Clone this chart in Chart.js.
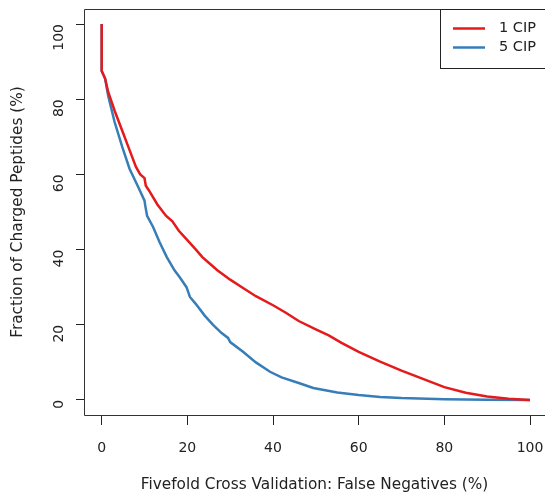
<!DOCTYPE html>
<html>
<head>
<meta charset="utf-8">
<script src="https://cdn.jsdelivr.net/npm/chart.js@4/dist/chart.umd.min.js"></script>
<style>
  html, body { margin: 0; padding: 0; background: #fff; overflow: hidden; }
  #wrap { width: 545px; height: 493px; }
</style>
</head>
<body>
<div id="wrap"><canvas id="cvChart"></canvas></div>
<script>
// === Data ===
const seriesLabels = ["1 CIP", "5 CIP"];
const seriesColors = ["#e41a1c", "#377eb8"];

const redX = [0, 0, 0.8, 1.5, 3, 5, 6, 7, 8, 9, 10, 10.3, 11, 13, 15, 16.5, 18, 20, 22, 23.5, 25, 27, 30, 33, 36, 40, 43, 46, 50, 53, 56, 60, 65, 70, 75, 80, 85, 90, 95, 100];
const redY = [100, 87.5, 85.5, 82, 77, 71, 68, 65, 62, 60, 59, 57, 55.8, 52, 49, 47.5, 45, 42.5, 40, 38, 36.5, 34.5, 32, 29.8, 27.6, 25.2, 23.2, 21, 18.8, 17.2, 15.2, 12.8, 10.2, 7.8, 5.6, 3.4, 1.9, 0.9, 0.3, 0];

const blueX = [0, 0, 0.8, 1.5, 3, 4.8, 6.5, 8.5, 10, 10.2, 10.6, 12, 13.5, 15.2, 17, 18.3, 19.8, 20.6, 22, 24, 26, 28, 29.5, 30, 33, 36, 39.3, 42, 46, 49.4, 55, 60, 65, 70, 80, 90, 100];
const blueY = [100, 87.5, 85.5, 81, 74, 67.3, 61.5, 56.7, 53, 51.5, 49, 46, 42, 38, 34.5, 32.5, 30, 27.4, 25.5, 22.5, 20, 17.8, 16.5, 15.4, 12.8, 10, 7.5, 6, 4.5, 3.2, 2, 1.3, 0.8, 0.5, 0.2, 0.05, 0];

const tickStep = 20;
const FONT = "'DejaVu Sans', Verdana, sans-serif";

function toPoints(xs, ys) {
  return xs.map((x, i) => ({ x: x, y: ys[i] }));
}

// box lines (top/left/bottom) and legend drawn inside the plot
const boxAndLegend = {
  id: "boxAndLegend",
  afterDraw(chart) {
    const { ctx, chartArea: a } = chart;
    ctx.save();
    ctx.strokeStyle = "#333";
    ctx.lineWidth = 1;
    ctx.beginPath();
    ctx.moveTo(a.right, a.top + 0.5);
    ctx.lineTo(a.left + 0.5, a.top + 0.5);
    ctx.lineTo(a.left + 0.5, a.bottom + 0.5);
    ctx.lineTo(a.right, a.bottom + 0.5);
    ctx.stroke();

    // legend box
    const lx = 440.5, ly = a.top + 0.5, lw = 120, lh = 59;
    ctx.fillStyle = "#fff";
    ctx.fillRect(lx, ly, lw, lh);
    ctx.strokeStyle = "#222";
    ctx.strokeRect(lx, ly, lw, lh);

    ctx.font = "14.5px " + FONT;
    ctx.textBaseline = "middle";
    chart.data.datasets.forEach((ds, i) => {
      const yy = ly + 19 + i * 19;
      ctx.strokeStyle = ds.borderColor;
      ctx.lineWidth = 2.5;
      ctx.beginPath();
      ctx.moveTo(453, yy);
      ctx.lineTo(485, yy);
      ctx.stroke();
      ctx.fillStyle = "#222";
      ctx.fillText(ds.label, 499, yy);
    });
    ctx.restore();
  }
};

const ctx = document.getElementById("cvChart").getContext("2d");

new Chart(ctx, {
  type: "line",
  data: {
    datasets: [
      {
        label: seriesLabels[0],
        data: toPoints(redX, redY),
        borderColor: seriesColors[0],
        borderWidth: 2.5,
        pointRadius: 0,
        tension: 0,
        fill: false
      },
      {
        label: seriesLabels[1],
        data: toPoints(blueX, blueY),
        borderColor: seriesColors[1],
        borderWidth: 2.5,
        pointRadius: 0,
        tension: 0,
        fill: false
      }
    ]
  },
  options: {
    responsive: true,
    maintainAspectRatio: false,
    animation: false,
    layout: { padding: { left: 0, top: 9, right: 0, bottom: 0 } },
    plugins: {
      legend: { display: false },
      tooltip: { enabled: false }
    },
    scales: {
      x: {
        type: "linear",
        min: -4.13,
        max: 103.5,
        border: { display: false },
        grid: { drawOnChartArea: false, drawTicks: true, tickLength: 10, color: "#222" },
        ticks: {
          stepSize: tickStep,
          includeBounds: false,
          padding: 15,
          color: "#222",
          font: { family: FONT, size: 14 }
        },
        title: {
          display: true,
          text: "Fivefold Cross Validation: False Negatives (%)",
          color: "#222",
          font: { family: FONT, size: 15.3 },
          padding: { top: 0, bottom: -1.5 }
        },
        afterFit(scale) {
          scale.height = 78;
          scale.paddingLeft = 0;
          scale.paddingRight = 0;
        }
      },
      y: {
        type: "linear",
        min: -4,
        max: 104,
        border: { display: false },
        grid: { drawOnChartArea: false, drawTicks: true, tickLength: 8, color: "#222" },
        ticks: {
          stepSize: tickStep,
          includeBounds: false,
          minRotation: 90,
          maxRotation: 90,
          padding: 17,
          color: "#222",
          font: { family: FONT, size: 14 }
        },
        title: {
          display: true,
          text: "Fraction of Charged Peptides (%)",
          color: "#222",
          font: { family: FONT, size: 15.3 },
          padding: { top: 8.5, bottom: 0 }
        },
        afterFit(scale) {
          scale.width = 84;
          scale.paddingTop = 0;
          scale.paddingBottom = 0;
        }
      }
    }
  },
  plugins: [boxAndLegend]
});
</script>
</body>
</html>
